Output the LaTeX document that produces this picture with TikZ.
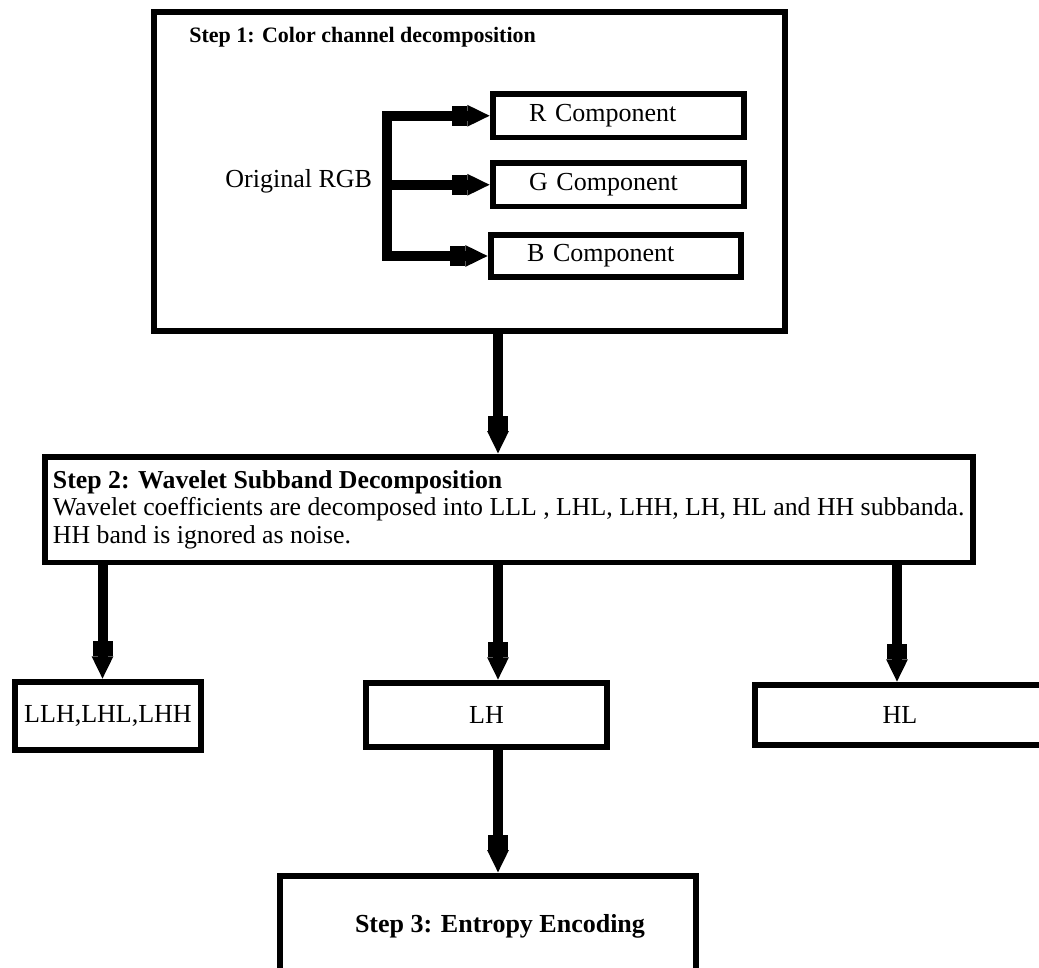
\documentclass[tikz,border=0pt]{standalone}
\usepackage{fontspec}
\setmainfont{Liberation Serif}
\usetikzlibrary{arrows.meta}
\begin{document}
\begin{tikzpicture}[x=0.5pt,y=-0.5pt,
  every node/.style={font=\fontsize{13}{13.75}\selectfont},
  box/.style={draw,line width=2.75pt,inner sep=0pt,rectangle},
  comp/.style={box,minimum height=21.75pt,text width=89.5pt,inner xsep=18pt,align=left},
  flow/.style={line width=5pt,line join=miter,-{Rectangle[length=7.5pt,width=10pt,sep=0pt]Triangle[length=11.5pt,width=10pt]}}]
\useasboundingbox (0,0) rectangle (1039,968);
\clip (0,0) rectangle (1039,968);
\node[box,minimum width=315.5pt,minimum height=159.5pt] (step1) at (469.5,171.5) {};
\node[anchor=base west,inner sep=0pt,font=\fontsize{11}{12}\selectfont\bfseries] (title1) at (189,43) {Step 1: Color channel decomposition};
\node[anchor=base west,inner sep=0pt] (rgb) at (225,188) {Original RGB};
\coordinate (fork) at (387,184.5);
\node[comp] (rcomp) at (618.5,115.75) {R Component};
\node[comp] (gcomp) at (618.5,184.75) {G Component};
\node[comp,minimum height=21pt,text width=89pt] (bcomp) at (616,256) {B Component};
\draw[flow] (fork) |- (rcomp.west);
\draw[flow] (fork) |- (gcomp.west);
\draw[flow] (fork) |- (bcomp.west);
\node[box,anchor=north west,minimum width=464pt,minimum height=52.75pt,align=left,font=\fontsize{12.9}{13.75}\selectfont] (step2) at (42,454) {\textbf{Step 2: Wavelet Subband Decomposition}\\Wavelet coefficients are decomposed into LLL , LHL, LHH, LH, HL and HH subbanda.\\HH band is ignored as noise.};
\node[box,minimum width=93pt,minimum height=34pt] (llh) at (108,716) {LLH,LHL,LHH};
\node[box,minimum width=120.5pt,minimum height=32pt] (lh) at (486.5,715) {LH};
\node[box,minimum width=145pt,minimum height=30pt] (hl) at (900,715) {HL};
\node[box,anchor=north,minimum width=208pt,minimum height=50.5pt,font=\fontsize{13}{14}\selectfont\bfseries] (step3) at (488,873) {\hspace*{12pt}Step 3: Entropy Encoding};
\coordinate (colL) at (102.5,0);
\coordinate (colM) at (498,0);
\coordinate (colR) at (897,0);
\draw[flow] (step1.south -| colM) -- (step2.north -| colM);
\draw[flow] (step2.south -| colL) -- (llh.north -| colL);
\draw[flow] (step2.south -| colM) -- (lh.north -| colM);
\draw[flow] (step2.south -| colR) -- (hl.north -| colR);
\draw[flow] (lh.south -| colM) -- (step3.north -| colM);
\end{tikzpicture}
\end{document}
